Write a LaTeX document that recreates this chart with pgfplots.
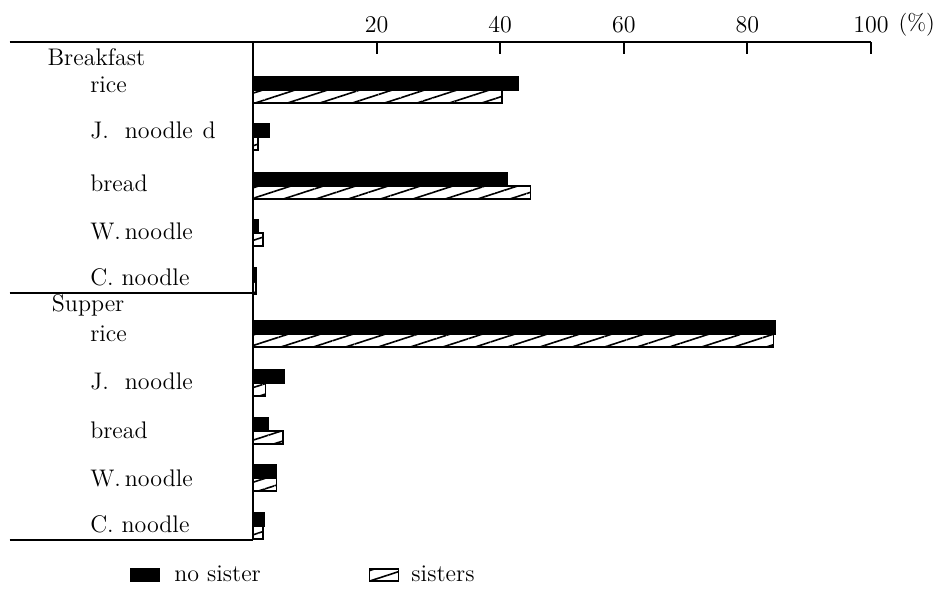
\documentclass[border=0pt]{standalone}
\usepackage{pgfplots}
\pgfplotsset{compat=1.18}
\usetikzlibrary{patterns.meta}
\begin{document}
\begin{tikzpicture}
\begin{axis}[
  scale only axis, width=309pt, height=249pt,
  xmin=0, xmax=100, ymin=56, ymax=554,
  axis x line*=top, axis y line=none,
  x axis line style={-, line width=1pt},
  xtick={20,40,60,80,100},
  tick align=inside,
  major tick length=6pt,
  every tick/.style={black, line width=1pt},
  xticklabel style={font=\fontsize{11.5}{12}\selectfont, yshift=1pt},
  clip=false,
  legend style={at={(axis cs:-20.9,21)}, anchor=west, draw=none, fill=none,
    font=\fontsize{12}{14}\selectfont, legend columns=2,
    /tikz/every even column/.append style={column sep=52pt}},
  legend image code/.code={\draw[#1] (0pt,-3pt) rectangle (14.5pt,3pt);},
]
\addplot[xbar, bar width=6.5pt, bar shift=3.25pt, fill=black, draw=black, line width=0.6pt]
  coordinates {(43,506) (2.7,459) (41.2,410) (0.8,363) (0.6,315)
               (84.6,262) (5.0,213) (2.5,165) (3.8,118) (1.9,70)};
\addlegendentry{\hspace{5pt}no sister}
\addplot[xbar, bar width=6.5pt, bar shift=-3.25pt, draw=black, line width=0.8pt, fill=white,
  postaction={pattern={Lines[angle=18, distance=5pt, line width=0.8pt]}}]
  coordinates {(40.3,506) (0.8,459) (44.9,410) (1.6,363) (0.5,315)
               (84.2,262) (2.0,213) (4.9,165) (3.8,118) (1.6,70)};
\addlegendentry{\hspace{4pt}sisters}
% frame lines
\draw[line width=1pt] (axis cs:-39.4,554) -- (axis cs:0,554);
\draw[line width=1pt] (axis cs:0,554) -- (axis cs:0,56);
\draw[line width=1pt] (axis cs:-39.4,303) -- (axis cs:0,303);
\draw[line width=1pt] (axis cs:-39.4,56) -- (axis cs:0,56);
% labels
\begin{scope}[every node/.style={anchor=west, font=\fontsize{12}{14}\selectfont, inner sep=0pt}]
\node at (axis cs:-33.3,539) {Breakfast};
\node at (axis cs:-26.4,511) {rice};
\node at (axis cs:-26.4,466) {J.\hspace{8pt}noodle\hspace{5pt}d};
\node at (axis cs:-26.4,413) {bread};
\node at (axis cs:-26.4,365) {W.\,noodle};
\node at (axis cs:-26.4,319) {C. noodle};
\node at (axis cs:-32.6,291) {Supper};
\node at (axis cs:-26.4,262) {rice};
\node at (axis cs:-26.4,215) {J.\hspace{8pt}noodle};
\node at (axis cs:-26.4,166) {bread};
\node at (axis cs:-26.4,118) {W.\,noodle};
\node at (axis cs:-26.4,72) {C. noodle};
\node[font=\fontsize{11.5}{12}\selectfont] at (axis cs:104.4,571) {(\%)};
\end{scope}
\path (axis cs:-40.94,0) rectangle (axis cs:112.46,596);
\end{axis}
\end{tikzpicture}
\end{document}
